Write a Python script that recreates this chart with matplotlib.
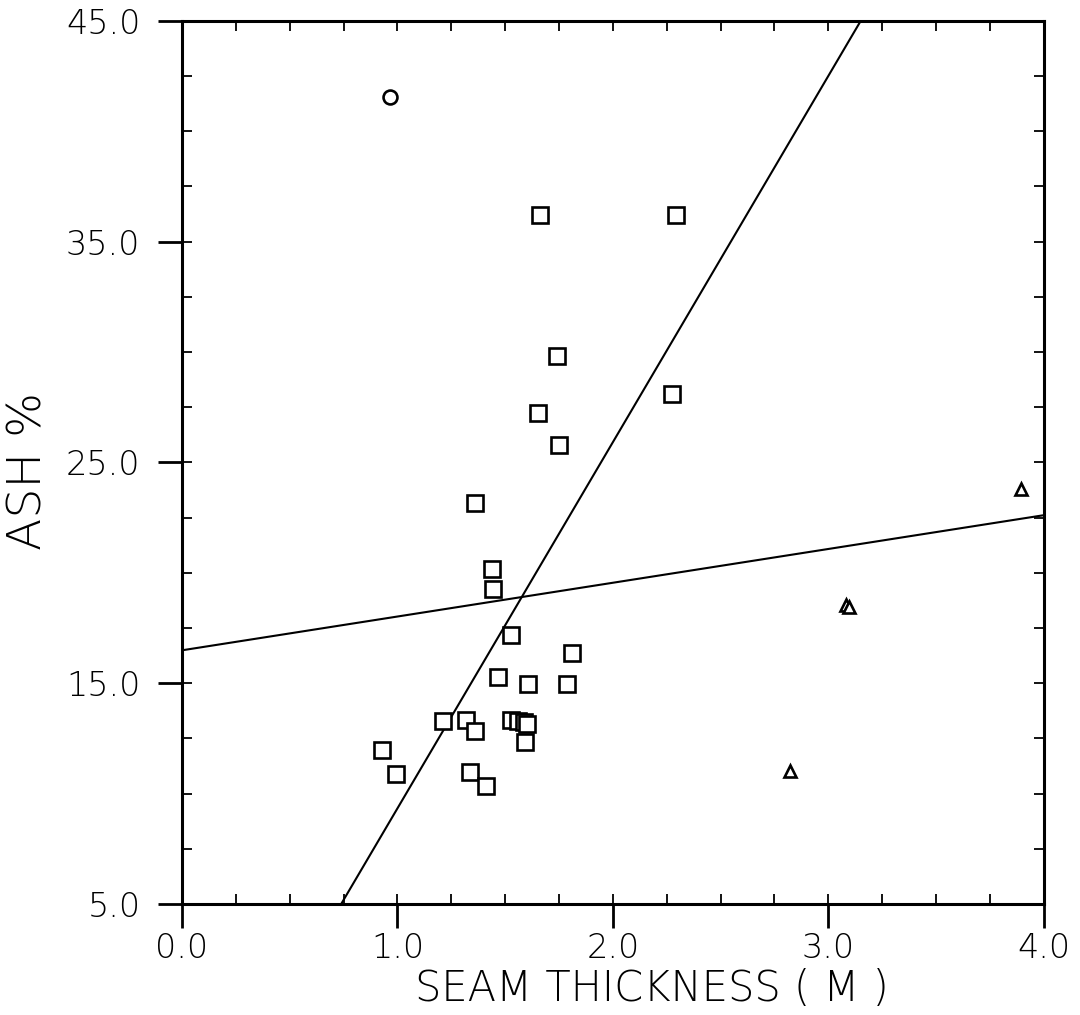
import numpy as np
import matplotlib
matplotlib.use("Agg")
import matplotlib.pyplot as plt
from matplotlib.ticker import MultipleLocator, FormatStrFormatter

# square symbols
sq_x = [1.663, 2.295, 1.742, 2.272, 1.654, 1.751, 1.361, 1.440, 1.445, 1.528,
        1.812, 1.468, 1.607, 1.789, 1.212, 1.319, 1.361, 1.528, 1.561, 1.589,
        1.603, 1.594, 0.929, 0.994, 1.338, 1.412]
sq_y = [36.22, 36.22, 29.84, 28.12, 27.26, 25.81, 23.14, 20.16, 19.25, 17.17,
        16.36, 15.27, 14.95, 14.95, 13.28, 13.33, 12.83, 13.33, 13.28, 13.24,
        13.15, 12.33, 11.97, 10.88, 10.97, 10.34]

# circle symbol
circ_x = [0.967]
circ_y = [41.56]

# triangle symbols
tri_x = [3.893, 3.084, 3.094, 2.820]
tri_y = [23.78, 18.52, 18.44, 11.02]

# fitted lines: (intercept, slope)
line_steep = (-7.26, 16.59)
line_flat = (16.49, 1.53)

FONT = dict(family='DejaVu Sans', weight='light')

fig = plt.figure(figsize=(10.8, 10.15), dpi=100)
ax = fig.add_axes([0.1685, 0.1094, 0.798, 0.870])

xs = np.linspace(0, 4, 200)
for a, b in [line_steep, line_flat]:
    ax.plot(xs, a + b * xs, color='black', lw=1.5, zorder=2)

ax.plot(sq_x, sq_y, 's', ms=11.5, mfc='white', mec='black', mew=1.9, zorder=3)
ax.plot(circ_x, circ_y, 'o', ms=10, mfc='white', mec='black', mew=1.9, zorder=3)
ax.plot(tri_x, tri_y, '^', ms=9, mfc='white', mec='black', mew=1.9, zorder=3)

ax.set_xlim(0, 4)
ax.set_ylim(5, 45)

for s in ax.spines.values():
    s.set_linewidth(2.2)

ax.xaxis.set_major_locator(MultipleLocator(1.0))
ax.xaxis.set_minor_locator(MultipleLocator(0.25))
ax.yaxis.set_minor_locator(MultipleLocator(2.5))
ax.set_yticks([5, 15, 25, 35, 45])
ax.xaxis.remove_overlapping_locs = False
ax.yaxis.remove_overlapping_locs = False
ax.xaxis.set_major_formatter(FormatStrFormatter('%.1f'))
ax.yaxis.set_major_formatter(FormatStrFormatter('%.1f'))

ax.tick_params(which='major', direction='out', length=17, width=2,
               top=False, right=False, labelsize=24, pad=3)
ax.tick_params(which='minor', direction='in', length=7, width=1.3,
               top=False, right=False)
ax.tick_params(axis='y', which='major', pad=13)

for lab in ax.get_xticklabels() + ax.get_yticklabels():
    lab.set_fontfamily(FONT['family'])
    lab.set_fontweight(FONT['weight'])

# inward ticks on top and right
top = ax.secondary_xaxis('top')
top.xaxis.set_major_locator(MultipleLocator(0.25))
top.tick_params(direction='in', length=7, width=1.3, labeltop=False)
right = ax.secondary_yaxis('right')
right.yaxis.set_major_locator(MultipleLocator(2.5))
right.tick_params(direction='in', length=7, width=1.3, labelright=False)

ax.set_xlabel('SEAM THICKNESS ( M )', fontsize=30, **FONT)
ax.xaxis.set_label_coords(0.545, -0.073)
ax.set_ylabel('ASH %', fontsize=34, **FONT)
ax.yaxis.set_label_coords(-0.153, 0.49)

fig.savefig('out.png', dpi=100)
